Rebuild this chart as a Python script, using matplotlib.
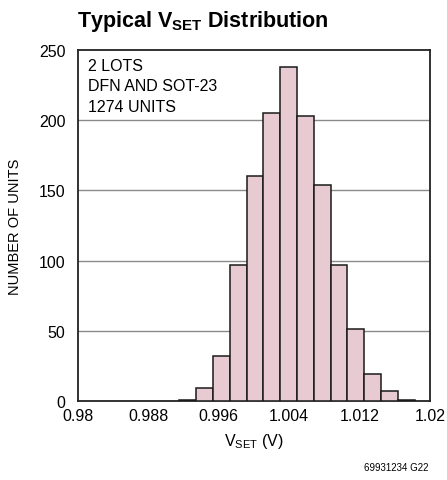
import matplotlib
matplotlib.use("Agg")
import matplotlib.pyplot as plt

# histogram data
bin_edges = [0.99151, 0.99342, 0.99533, 0.99724, 0.99915, 1.00106, 1.00297, 1.00488,
             1.00679, 1.00870, 1.01061, 1.01252, 1.01443, 1.01634, 1.01825]
counts = [1, 9, 32, 97, 160, 205, 238, 203, 154, 97, 51, 19, 7, 1]

x_ticks = [0.98, 0.988, 0.996, 1.004, 1.012, 1.02]
y_ticks = [0, 50, 100, 150, 200, 250]

plt.rcParams['font.family'] = ['Liberation Sans', 'DejaVu Sans']
plt.rcParams['mathtext.fontset'] = 'custom'
plt.rcParams['mathtext.rm'] = 'Liberation Sans'
plt.rcParams['mathtext.bf'] = 'Liberation Sans:bold'

fig = plt.figure(figsize=(4.47, 4.81), dpi=100)
ax = fig.add_axes([0.1745, 0.1642, 0.7875, 0.7298])

widths = [bin_edges[i + 1] - bin_edges[i] for i in range(len(counts))]
ax.bar(bin_edges[:-1], counts, width=widths, align='edge',
       color='#E8CAD3', edgecolor='#1a1a1a', linewidth=1.1, zorder=3)

for y in y_ticks[1:-1]:
    ax.axhline(y, color='#8a8a8a', linewidth=1.0, zorder=1)

ax.set_xlim(0.98, 1.02)
ax.set_ylim(0, 250)
ax.set_xticks(x_ticks)
ax.set_xticklabels(['0.98', '0.988', '0.996', '1.004', '1.012', '1.02'])
ax.set_yticks(y_ticks)
ax.tick_params(axis='y', length=0, labelsize=11.5, pad=9)
ax.tick_params(axis='x', length=0, labelsize=11.5, pad=5)
for s in ax.spines.values():
    s.set_linewidth(1.3)
    s.set_color('#222222')

ax.set_ylabel('NUMBER OF UNITS', fontsize=10.5, labelpad=12)
ax.set_xlabel(r'V$_{\mathrm{SET}}$ (V)', fontsize=11.5, labelpad=6)

ax.text(0.028, 0.978, '2 LOTS\nDFN AND SOT-23\n1274 UNITS', transform=ax.transAxes,
        ha='left', va='top', fontsize=11.5, linespacing=1.45, zorder=2,
        bbox=dict(facecolor='white', edgecolor='none', pad=1))

fig.text(0.172, 0.955, r'Typical V$_{\mathbf{SET}}$ Distribution', fontsize=15.5,
         fontweight='bold', ha='left', va='center')
fig.text(0.958, 0.028, '69931234 G22', fontsize=7, ha='right', va='center')

fig.savefig('out.png', dpi=100)
